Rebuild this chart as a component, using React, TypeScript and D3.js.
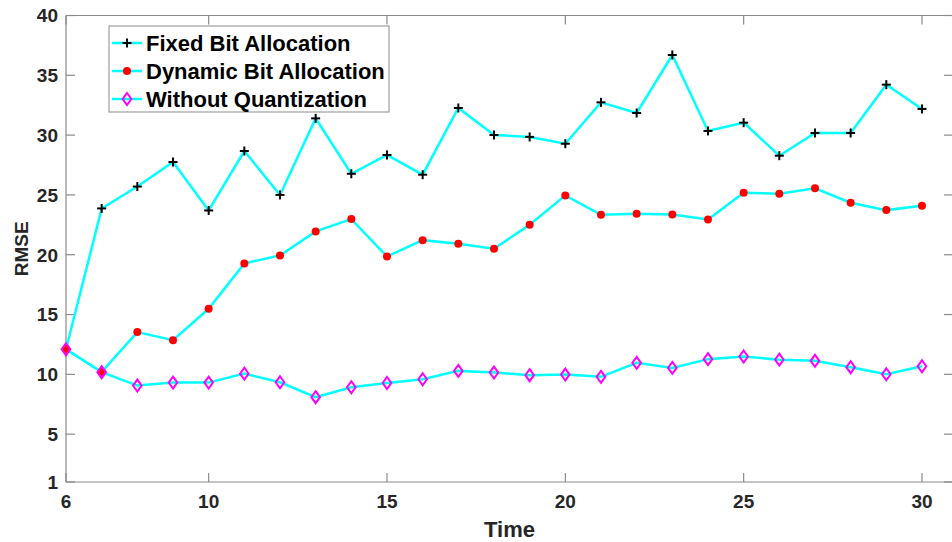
import React from "react";
import * as d3 from "d3";

// Time steps and RMSE values for each scheme
const times: number[] = [6, 7, 8, 9, 10, 11, 12, 13, 14, 15, 16, 17, 18, 19, 20, 21, 22, 23, 24, 25, 26, 27, 28, 29, 30];

const fixedBit: number[] = [
  12.1, 23.87, 25.7, 27.75, 23.7, 28.67, 25.0, 31.4, 26.77, 28.34, 26.69, 32.27, 30.01,
  29.85, 29.28, 32.74, 31.85, 36.7, 30.35, 31.04, 28.28, 30.18, 30.18, 34.22, 32.19,
];

const dynamicBit: number[] = [
  12.1, 10.2, 13.53, 12.86, 15.48, 19.27, 19.94, 21.95, 22.98, 19.85, 21.22, 20.92, 20.5,
  22.5, 24.96, 23.34, 23.43, 23.37, 22.95, 25.18, 25.1, 25.55, 24.35, 23.73, 24.1,
];

const noQuant: number[] = [
  12.1, 10.18, 9.06, 9.31, 9.31, 10.06, 9.34, 8.09, 8.92, 9.28, 9.59, 10.29, 10.15,
  9.93, 9.98, 9.79, 10.96, 10.54, 11.27, 11.49, 11.23, 11.13, 10.6, 10.01, 10.68,
];

const xTicks: number[] = [6, 10, 15, 20, 25, 30];
const yTicks: number[] = [1, 5, 10, 15, 20, 25, 30, 35, 40];

const seriesNames: string[] = ["Fixed Bit Allocation", "Dynamic Bit Allocation", "Without Quantization"];

const W = 952;
const H = 542;
const plot = { left: 66, right: 953, top: 15.5, bottom: 482 };

const FONT = "'Liberation Sans', Arial, Helvetica, sans-serif";
const AXIS = "#8a8a8a";
const TXT = "#262626";
const LINE = "#00ffff";

type Kind = "plus" | "dot" | "diamond";

function Marker({ kind, x, y }: { kind: Kind; x: number; y: number }) {
  if (kind === "plus") {
    const a = 4.5;
    return (
      <g stroke="#000" strokeWidth={2}>
        <line x1={x - a} x2={x + a} y1={y} y2={y} />
        <line x1={x} x2={x} y1={y - a} y2={y + a} />
      </g>
    );
  }
  if (kind === "dot") {
    return <circle cx={x} cy={y} r={4} fill="#ff0000" />;
  }
  const hw = 4.3;
  const hh = 6;
  return (
    <path
      d={`M${x},${y - hh}L${x + hw},${y}L${x},${y + hh}L${x - hw},${y}Z`}
      fill="none"
      stroke="#ff00ff"
      strokeWidth={2}
    />
  );
}

export default function App() {
  const x = d3.scaleLinear().domain([6, 30.87]).range([plot.left, plot.right]);
  const y = d3.scaleLinear().domain([1, 40]).range([plot.bottom, plot.top]);

  const line = d3
    .line<number>()
    .x((_, i) => x(times[i]))
    .y((v) => y(v));

  const series: { values: number[]; kind: Kind }[] = [
    { values: fixedBit, kind: "plus" },
    { values: dynamicBit, kind: "dot" },
    { values: noQuant, kind: "diamond" },
  ];

  const tickLen = 9;
  const legend = { x: 109, y: 26, w: 280, h: 86 };
  const rowY = [43, 71, 99];

  return (
    <div style={{ position: "fixed", left: 0, top: 0, width: W, height: H, background: "#fff" }}>
      <svg width={W} height={H} style={{ display: "block" }} fontFamily={FONT}>
        <rect x={0} y={0} width={W} height={H} fill="#fff" />

        {/* axes box */}
        <g stroke={AXIS} strokeWidth={1.2} fill="none">
          <line x1={plot.left} x2={plot.right} y1={plot.bottom} y2={plot.bottom} />
          <line x1={plot.left} x2={plot.right} y1={plot.top} y2={plot.top} />
          <line x1={plot.left} x2={plot.left} y1={plot.top} y2={plot.bottom} />
          <line x1={plot.right} x2={plot.right} y1={plot.top} y2={plot.bottom} />
          {xTicks.map((t) => (
            <g key={`xt${t}`}>
              <line x1={x(t)} x2={x(t)} y1={plot.bottom} y2={plot.bottom - tickLen} />
              <line x1={x(t)} x2={x(t)} y1={plot.top} y2={plot.top + tickLen} />
            </g>
          ))}
          {yTicks.map((t) => (
            <g key={`yt${t}`}>
              <line x1={plot.left} x2={plot.left + tickLen} y1={y(t)} y2={y(t)} />
              <line x1={plot.right} x2={plot.right - tickLen} y1={y(t)} y2={y(t)} />
            </g>
          ))}
        </g>

        {/* tick labels */}
        <g fill={TXT} fontWeight="bold" fontSize={19}>
          {xTicks.map((t) => (
            <text key={`xl${t}`} x={x(t)} y={plot.bottom + 26} textAnchor="middle">
              {t}
            </text>
          ))}
          {yTicks.map((t) => (
            <text key={`yl${t}`} x={plot.left - 8} y={y(t)} dy="0.36em" textAnchor="end">
              {t}
            </text>
          ))}
        </g>

        {/* axis titles */}
        <text
          x={(plot.left + plot.right) / 2}
          y={537}
          textAnchor="middle"
          fontWeight="bold"
          fontSize={22}
          fill={TXT}
        >
          Time
        </text>
        <text
          transform={`translate(28,${(plot.top + plot.bottom) / 2}) rotate(-90)`}
          textAnchor="middle"
          fontWeight="bold"
          fontSize={19}
          fill={TXT}
        >
          RMSE
        </text>

        {/* series */}
        {series.map((s, si) => (
          <path key={`l${si}`} d={line(s.values) || ""} fill="none" stroke={LINE} strokeWidth={2.5} />
        ))}
        {series.map((s, si) => (
          <g key={`m${si}`}>
            {s.values.map((v, i) => (
              <Marker key={i} kind={s.kind} x={x(times[i])} y={y(v)} />
            ))}
          </g>
        ))}

        {/* legend */}
        <rect x={legend.x} y={legend.y} width={legend.w} height={legend.h} fill="#fff" stroke={AXIS} strokeWidth={1} />
        {seriesNames.map((name, i) => (
          <g key={name}>
            <line x1={112} x2={142} y1={rowY[i]} y2={rowY[i]} stroke={LINE} strokeWidth={2.5} />
            <Marker kind={series[i].kind} x={127} y={rowY[i]} />
            <text x={146} y={rowY[i]} dy="0.36em" fontWeight="bold" fontSize={22} fill="#000">
              {name}
            </text>
          </g>
        ))}
      </svg>
    </div>
  );
}
